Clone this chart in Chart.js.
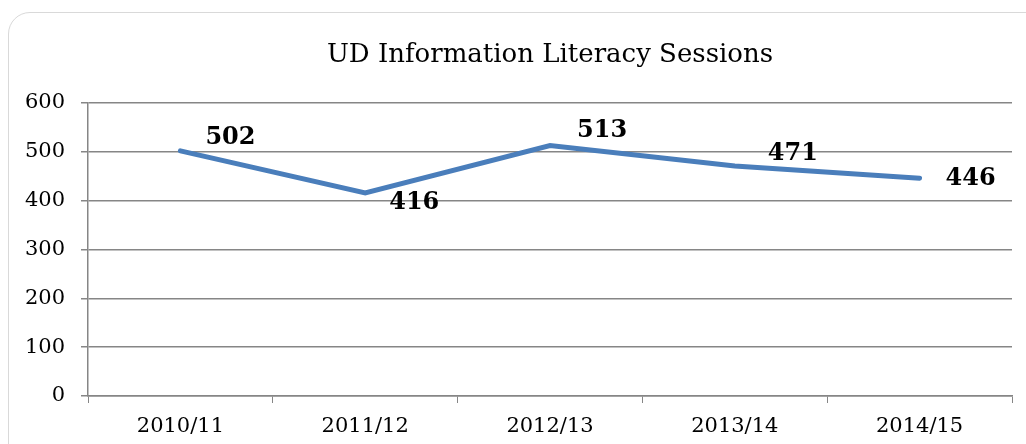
<!DOCTYPE html>
<html>
<head>
<meta charset="utf-8">
<script src="https://cdn.jsdelivr.net/npm/chart.js@4"></script>
<style>
  html, body { margin: 0; padding: 0; background: #fff; overflow: hidden; }
  #wrap { position: relative; width: 1026px; height: 444px; }
  #frame { position: absolute; left: 8px; top: 12px; width: 1040px; height: 460px;
           border: 1.5px solid #d9d9d9; border-radius: 22px; box-sizing: border-box; }
  canvas { position: absolute; left: 0; top: 0; }
</style>
</head>
<body>
<div id="wrap">
  <div id="frame"></div>
  <canvas id="sessionsChart" width="1026" height="444"></canvas>
</div>
<script>
// Chart data
const years = ['2010/11', '2011/12', '2012/13', '2013/14', '2014/15'];
const sessions = [502, 416, 513, 471, 446];
const yTicks = [0, 100, 200, 300, 400, 500, 600];
const chartTitle = 'UD Information Literacy Sessions';

const serif = '"DejaVu Serif", "Liberation Serif", serif';

// label nudges (left edge offset, vertical offset) like the moved Excel labels
const labelNudge = [[25, -13], [24, 10], [27, -15], [33, -12], [26, 1]];

const titlePlugin = {
    id: 'centeredTitle',
    afterDraw(chart) {
        const ctx = chart.ctx;
        const area = chart.chartArea;
        ctx.save();
        ctx.font = '26px ' + serif;
        ctx.fillStyle = '#000';
        ctx.textAlign = 'center';
        ctx.textBaseline = 'middle';
        ctx.fillText(chartTitle, (area.left + area.right) / 2, 55);
        ctx.restore();
    }
};

const labelPlugin = {
    id: 'pointLabels',
    afterDatasetsDraw(chart) {
        const ctx = chart.ctx;
        const meta = chart.getDatasetMeta(0);
        ctx.save();
        ctx.font = 'bold 24px ' + serif;
        ctx.fillStyle = '#000';
        ctx.textAlign = 'left';
        ctx.textBaseline = 'middle';
        meta.data.forEach((pt, i) => {
            const n = labelNudge[i];
            ctx.fillText(String(sessions[i]), pt.x + n[0], pt.y + n[1]);
        });
        ctx.restore();
    }
};

let ctx = document.getElementById('sessionsChart').getContext('2d');
let sessionsChart = new Chart(ctx, {
    type: 'line',
    data: {
        labels: years,
        datasets: [{
            data: sessions,
            borderColor: '#4A7EBB',
            borderWidth: 5,
            borderCapStyle: 'round',
            borderJoinStyle: 'miter',
            pointRadius: 0,
            tension: 0
        }]
    },
    options: {
        responsive: false,
        animation: false,
        layout: { padding: { top: 103, right: 14, bottom: 0, left: 0 } },
        plugins: {
            legend: { display: false },
            title: { display: false },
            tooltip: { enabled: false }
        },
        scales: {
            x: {
                offset: true,
                grid: {
                    offset: true,
                    drawOnChartArea: false,
                    drawTicks: true,
                    tickLength: 7,
                    color: '#868686'
                },
                border: { color: '#868686', width: 1.5 },
                ticks: { color: '#000', font: { family: serif, size: 21 }, padding: 11 },
                afterFit(scale) { scale.height = 48; }
            },
            y: {
                min: 0,
                max: 600,
                afterBuildTicks(scale) { scale.ticks = yTicks.map(v => ({ value: v })); },
                grid: { color: '#868686', lineWidth: 1.5, tickLength: 7 },
                border: { color: '#868686', width: 1.5 },
                ticks: { color: '#000', font: { family: serif, size: 21 }, padding: 16 },
                afterFit(scale) { scale.width = 88; }
            }
        }
    },
    plugins: [titlePlugin, labelPlugin]
});
</script>
</body>
</html>
